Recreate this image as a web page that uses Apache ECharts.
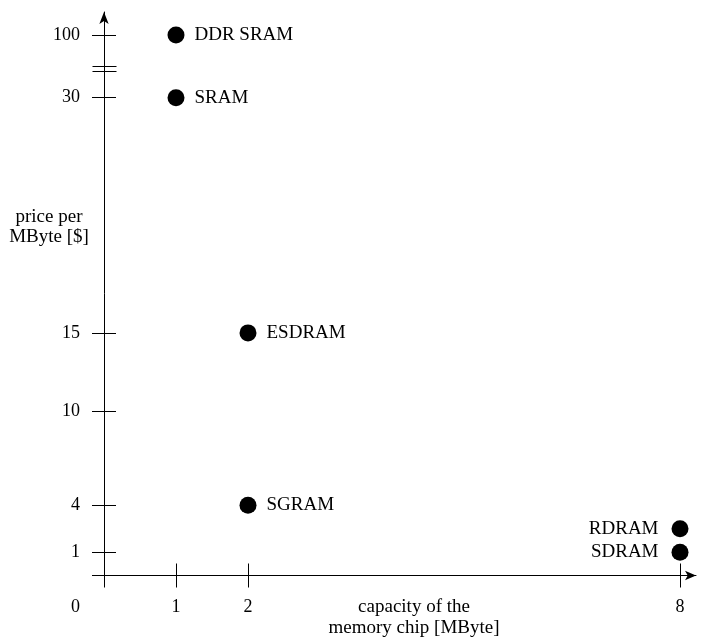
<!DOCTYPE html>
<html>
<head>
<meta charset="utf-8">
<script src="https://cdn.jsdelivr.net/npm/echarts@6/dist/echarts.min.js"></script>
<style>
html,body{margin:0;padding:0;background:#fff;}
#chart{width:701px;height:639px;}
</style>
</head>
<body>
<div id="chart"></div>
<script>
// ---- data ----
const chipNames = ['DDR SRAM', 'SRAM', 'ESDRAM', 'SGRAM', 'RDRAM', 'SDRAM'];
const capacityMB = [1, 1, 2, 2, 8, 8];
const pricePerMB = [100, 30, 15, 4, 2.5, 1];
const labelSide = ['right', 'right', 'right', 'right', 'left', 'left'];
const xTickValues = [1, 2, 8];
const yTickValues = [1, 4, 10, 15, 30, 100];

// ---- axis extents ----
const X_MIN = 0, X_MAX = 8.222;
const Y_MIN = -0.478, Y_MAX = 101.47;
const yBreaks = [{ start: 31, end: 99, gap: 2 }];

const FONT = '"Liberation Serif", "Times New Roman", serif';
const black = '#000';

const data = chipNames.map((n, i) => ({
  value: [capacityMB[i], pricePerMB[i]],
  name: n,
  label: { position: labelSide[i], distance: labelSide[i] === 'left' ? 13 : 10 }
}));

const chart = echarts.init(document.getElementById('chart'), null, { renderer: 'canvas' });

const baseX = {
  type: 'value', min: X_MIN, max: X_MAX, position: 'bottom',
  splitLine: { show: false }
};
const baseY = {
  type: 'value', min: Y_MIN, max: Y_MAX, position: 'left',
  breaks: yBreaks,
  breakArea: { show: false },
  splitLine: { show: false }
};

chart.setOption({
  backgroundColor: '#fff',
  animation: false,
  grid: { left: 104, right: 5, top: 12, bottom: 639 - 575.5, containLabel: false },
  xAxis: [
    Object.assign({}, baseX, {
      axisLine: { show: true, onZero: false, symbol: ['none', 'arrow'], symbolSize: [7, 11],
        lineStyle: { color: black, width: 1 } },
      axisTick: { show: true, inside: false, length: 12, customValues: [0].concat(xTickValues),
        lineStyle: { color: black, width: 1 } },
      axisLabel: { show: true, customValues: xTickValues, margin: 23, color: black,
        fontFamily: FONT, fontSize: 18 }
    }),
    Object.assign({}, baseX, {
      axisLine: { show: false, onZero: false },
      axisTick: { show: true, inside: true, length: 12, customValues: xTickValues,
        lineStyle: { color: black, width: 1 } },
      axisLabel: { show: false }
    })
  ],
  yAxis: [
    Object.assign({}, baseY, {
      axisLine: { show: false, onZero: false },
      axisTick: { show: true, inside: false, length: 12, customValues: [Y_MIN].concat(yTickValues),
        lineStyle: { color: black, width: 1 } },
      axisLabel: { show: true, customValues: yTickValues, margin: 24, color: black,
        fontFamily: FONT, fontSize: 18 }
    }),
    Object.assign({}, baseY, {
      axisLine: { show: false, onZero: false },
      axisTick: { show: true, inside: true, length: 12, customValues: yTickValues,
        lineStyle: { color: black, width: 1 } },
      axisLabel: { show: false }
    }),
    {
      // continuous axis line with arrow (no break gap)
      type: 'value', min: 0, max: 1, position: 'left',
      splitLine: { show: false },
      axisLine: { show: true, onZero: false, symbol: ['none', 'arrow'], symbolSize: [7, 12],
        lineStyle: { color: black, width: 1 } },
      axisTick: { show: false },
      axisLabel: { show: false }
    }
  ],
  series: [{
    type: 'scatter',
    xAxisIndex: 0, yAxisIndex: 0,
    symbol: 'circle', symbolSize: 17,
    itemStyle: { color: black, opacity: 1 },
    label: {
      show: true, formatter: '{b}', color: black,
      fontFamily: FONT, fontSize: 19
    },
    data: data,
    clip: false
  }],
  graphic: [
    { type: 'text', left: 71, top: 598, style: { text: '0', font: '18px ' + FONT, fill: black } },
    { type: 'text', x: 49, y: 227, style: { text: 'price per\nMByte [$]', font: '19px ' + FONT, fill: black,
        align: 'center', verticalAlign: 'middle', lineHeight: 20 } },
    { type: 'text', x: 414, y: 618, style: { text: 'capacity of the\nmemory chip [MByte]', font: '19px ' + FONT, fill: black,
        align: 'center', verticalAlign: 'middle', lineHeight: 21 } },
    { type: 'line', shape: { x1: 92.5, y1: 66.5, x2: 116.5, y2: 66.5 }, style: { stroke: black, lineWidth: 1 } },
    { type: 'line', shape: { x1: 92.5, y1: 71.5, x2: 116.5, y2: 71.5 }, style: { stroke: black, lineWidth: 1 } }
  ]
});
</script>
</body>
</html>
